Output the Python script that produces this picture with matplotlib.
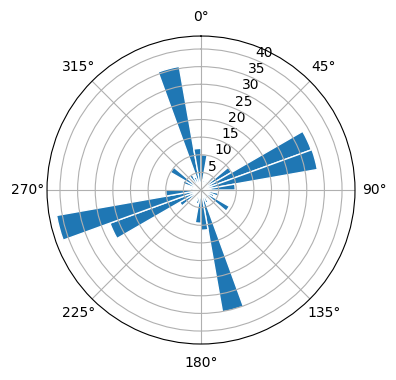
import numpy as np
import matplotlib
matplotlib.use("Agg")
import matplotlib.pyplot as plt

bin_centres = [5, 15, 25, 35, 45, 55, 65, 75, 85,
               95, 105, 115, 125, 135, 145, 155, 165, 175,
               185, 195, 205, 215, 225, 235, 245, 255, 265,
               275, 285, 295, 305, 315, 325, 335, 345, 355]
counts = [10, 3, 2, 3, 5, 10, 33.3, 33.5, 9.7,
          3, 5, 4, 9.3, 2, 3, 4, 35.1, 11.4,
          9.4, 4, 3, 2, 3, 7, 27.5, 41.6, 10,
          3, 3, 5.5, 10, 3, 5, 4, 35.6, 11.8]
bin_width = 10

fig = plt.figure(figsize=(3.96, 3.8), dpi=100)
ax = fig.add_axes([0.1187, 0.0947, 0.7778, 0.8105], projection='polar')
ax.set_theta_zero_location('N')
ax.set_theta_direction(-1)

ax.bar(np.deg2rad(bin_centres), counts, width=np.deg2rad(bin_width),
       bottom=0.0, color='#1f77b4', edgecolor='white', linewidth=1)

fig.savefig('out.png', dpi=100)
